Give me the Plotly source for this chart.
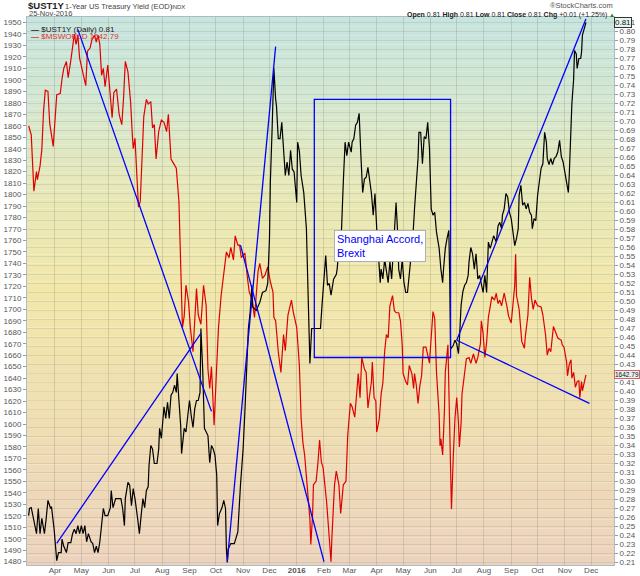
import plotly.graph_objects as go

# $UST1Y daily close (right axis)
ust_dates = ["2015-03-02", "2015-03-03", "2015-03-05", "2015-03-08", "2015-03-11", "2015-03-13", "2015-03-15", "2015-03-17",
             "2015-03-20", "2015-03-22", "2015-03-24", "2015-03-27", "2015-03-28", "2015-03-31", "2015-04-03", "2015-04-05",
             "2015-04-08", "2015-04-09", "2015-04-11", "2015-04-14", "2015-04-16", "2015-04-19", "2015-04-21", "2015-04-23",
             "2015-04-25", "2015-04-27", "2015-04-29", "2015-05-01", "2015-05-03", "2015-05-05", "2015-05-07", "2015-05-09",
             "2015-05-12", "2015-05-14", "2015-05-16", "2015-05-18", "2015-05-20", "2015-05-22", "2015-05-24", "2015-05-26",
             "2015-05-28", "2015-05-31", "2015-06-03", "2015-06-04", "2015-06-06", "2015-06-09", "2015-06-12", "2015-06-15",
             "2015-06-17", "2015-06-19", "2015-06-20", "2015-06-23", "2015-06-25", "2015-06-27", "2015-06-29", "2015-07-01",
             "2015-07-04", "2015-07-06", "2015-07-08", "2015-07-10", "2015-07-12", "2015-07-14", "2015-07-16", "2015-07-17",
             "2015-07-19", "2015-07-21", "2015-07-23", "2015-07-26", "2015-07-28", "2015-07-29", "2015-07-31", "2015-08-02",
             "2015-08-03", "2015-08-05", "2015-08-07", "2015-08-09", "2015-08-11", "2015-08-13", "2015-08-15", "2015-08-17",
             "2015-08-18", "2015-08-20", "2015-08-22", "2015-08-23", "2015-08-26", "2015-08-28", "2015-08-31", "2015-09-01",
             "2015-09-03", "2015-09-05", "2015-09-07", "2015-09-09", "2015-09-11", "2015-09-13", "2015-09-14", "2015-09-16",
             "2015-09-18", "2015-09-20", "2015-09-22", "2015-09-24", "2015-09-26", "2015-09-28", "2015-09-30", "2015-10-02",
             "2015-10-03", "2015-10-05", "2015-10-08", "2015-10-10", "2015-10-12", "2015-10-13", "2015-10-14", "2015-10-15",
             "2015-10-18", "2015-10-22", "2015-10-26", "2015-10-29", "2015-11-01", "2015-11-03", "2015-11-05", "2015-11-07",
             "2015-11-09", "2015-11-11", "2015-11-12", "2015-11-16", "2015-11-20", "2015-11-23", "2015-11-27", "2015-11-29",
             "2015-12-01", "2015-12-02", "2015-12-04", "2015-12-06", "2015-12-08", "2015-12-09", "2015-12-11", "2015-12-13",
             "2015-12-15", "2015-12-17", "2015-12-19", "2015-12-21", "2015-12-23", "2015-12-25", "2015-12-27", "2015-12-29",
             "2016-01-01", "2016-01-02", "2016-01-04", "2016-01-06", "2016-01-09", "2016-01-12", "2016-01-14", "2016-01-15",
             "2016-01-16", "2016-01-18", "2016-01-21", "2016-01-25", "2016-01-28", "2016-01-30", "2016-02-01", "2016-02-03",
             "2016-02-05", "2016-02-07", "2016-02-09", "2016-02-12", "2016-02-15", "2016-02-16", "2016-02-18", "2016-02-21",
             "2016-02-23", "2016-02-25", "2016-02-27", "2016-02-29", "2016-03-03", "2016-03-04", "2016-03-06", "2016-03-08",
             "2016-03-10", "2016-03-12", "2016-03-14", "2016-03-16", "2016-03-18", "2016-03-20", "2016-03-22", "2016-03-24",
             "2016-03-26", "2016-03-28", "2016-03-30", "2016-04-01", "2016-04-03", "2016-04-05", "2016-04-06", "2016-04-08",
             "2016-04-10", "2016-04-12", "2016-04-14", "2016-04-16", "2016-04-18", "2016-04-20", "2016-04-22", "2016-04-23",
             "2016-04-25", "2016-04-26", "2016-04-28", "2016-04-30", "2016-05-02", "2016-05-04", "2016-05-06", "2016-05-08",
             "2016-05-10", "2016-05-12", "2016-05-14", "2016-05-16", "2016-05-18", "2016-05-19", "2016-05-21", "2016-05-23",
             "2016-05-25", "2016-05-27", "2016-05-29", "2016-05-31", "2016-06-02", "2016-06-04", "2016-06-06", "2016-06-08",
             "2016-06-11", "2016-06-13", "2016-06-15", "2016-06-16", "2016-06-18", "2016-06-20", "2016-06-22", "2016-06-23",
             "2016-06-24", "2016-06-27", "2016-06-29", "2016-07-01", "2016-07-03", "2016-07-04", "2016-07-06", "2016-07-08",
             "2016-07-10", "2016-07-12", "2016-07-14", "2016-07-15", "2016-07-17", "2016-07-19", "2016-07-21", "2016-07-23",
             "2016-07-25", "2016-07-27", "2016-07-29", "2016-07-31", "2016-08-02", "2016-08-04", "2016-08-06", "2016-08-08",
             "2016-08-09", "2016-08-12", "2016-08-15", "2016-08-17", "2016-08-19", "2016-08-21", "2016-08-22", "2016-08-24",
             "2016-08-26", "2016-08-28", "2016-08-30", "2016-09-01", "2016-09-03", "2016-09-05", "2016-09-07", "2016-09-09",
             "2016-09-10", "2016-09-12", "2016-09-14", "2016-09-16", "2016-09-18", "2016-09-20", "2016-09-22", "2016-09-24",
             "2016-09-25", "2016-09-27", "2016-09-29", "2016-10-01", "2016-10-03", "2016-10-05", "2016-10-07", "2016-10-09",
             "2016-10-11", "2016-10-12", "2016-10-14", "2016-10-16", "2016-10-18", "2016-10-20", "2016-10-22", "2016-10-24",
             "2016-10-26", "2016-10-28", "2016-10-30", "2016-11-02", "2016-11-03", "2016-11-05", "2016-11-06", "2016-11-08",
             "2016-11-09", "2016-11-11", "2016-11-12", "2016-11-14", "2016-11-15", "2016-11-17", "2016-11-19", "2016-11-20",
             "2016-11-21", "2016-11-23", "2016-11-25"]
ust_vals = [0.262, 0.270, 0.271, 0.255, 0.242, 0.270, 0.242, 0.259,
            0.242, 0.259, 0.279, 0.270, 0.272, 0.247, 0.212, 0.221,
            0.221, 0.236, 0.228, 0.221, 0.232, 0.232, 0.242, 0.247,
            0.242, 0.251, 0.242, 0.251, 0.242, 0.251, 0.233, 0.242,
            0.233, 0.231, 0.221, 0.228, 0.221, 0.233, 0.251, 0.270,
            0.262, 0.262, 0.271, 0.290, 0.271, 0.281, 0.281, 0.281,
            0.270, 0.251, 0.281, 0.299, 0.296, 0.273, 0.292, 0.281,
            0.259, 0.242, 0.262, 0.281, 0.271, 0.290, 0.294, 0.318,
            0.340, 0.336, 0.320, 0.320, 0.336, 0.359, 0.348, 0.377,
            0.383, 0.370, 0.388, 0.370, 0.396, 0.399, 0.407, 0.399,
            0.420, 0.390, 0.362, 0.331, 0.359, 0.355, 0.388, 0.390,
            0.373, 0.360, 0.381, 0.390, 0.390, 0.399, 0.470, 0.425,
            0.359, 0.355, 0.351, 0.321, 0.340, 0.336, 0.329, 0.307,
            0.251, 0.264, 0.271, 0.279, 0.270, 0.225, 0.210, 0.225,
            0.231, 0.231, 0.244, 0.296, 0.336, 0.377, 0.421, 0.470,
            0.488, 0.518, 0.494, 0.490, 0.499, 0.510, 0.512, 0.520,
            0.570, 0.633, 0.692, 0.759, 0.725, 0.717, 0.681, 0.681,
            0.699, 0.671, 0.640, 0.655, 0.640, 0.668, 0.647, 0.644,
            0.610, 0.677, 0.667, 0.640, 0.621, 0.581, 0.510, 0.451,
            0.431, 0.470, 0.470, 0.470, 0.470, 0.499, 0.530, 0.551,
            0.518, 0.520, 0.507, 0.525, 0.530, 0.536, 0.559, 0.581,
            0.633, 0.677, 0.662, 0.677, 0.666, 0.677, 0.681, 0.696,
            0.699, 0.709, 0.662, 0.621, 0.636, 0.638, 0.649, 0.633,
            0.620, 0.596, 0.620, 0.581, 0.544, 0.521, 0.536, 0.525,
            0.547, 0.536, 0.521, 0.544, 0.525, 0.559, 0.588, 0.610,
            0.573, 0.536, 0.525, 0.547, 0.521, 0.510, 0.510, 0.529,
            0.544, 0.570, 0.603, 0.633, 0.659, 0.688, 0.688, 0.653,
            0.683, 0.681, 0.699, 0.670, 0.603, 0.596, 0.599, 0.577,
            0.559, 0.536, 0.521, 0.536, 0.559, 0.570, 0.579, 0.529,
            0.447, 0.451, 0.457, 0.453, 0.442, 0.457, 0.496, 0.511,
            0.518, 0.521, 0.529, 0.544, 0.560, 0.553, 0.536, 0.553,
            0.525, 0.529, 0.521, 0.510, 0.529, 0.510, 0.566, 0.559,
            0.562, 0.573, 0.566, 0.584, 0.588, 0.581, 0.596, 0.603,
            0.620, 0.616, 0.599, 0.592, 0.577, 0.562, 0.570, 0.581,
            0.618, 0.629, 0.607, 0.610, 0.603, 0.609, 0.599, 0.596,
            0.581, 0.592, 0.590, 0.618, 0.633, 0.648, 0.653, 0.688,
            0.677, 0.659, 0.652, 0.659, 0.652, 0.659, 0.661, 0.666,
            0.679, 0.661, 0.655, 0.640, 0.633, 0.621, 0.640, 0.710,
            0.720, 0.747, 0.779, 0.775, 0.759, 0.770, 0.770, 0.777,
            0.796, 0.803, 0.810]

# $MSWORLD close (left axis)
msw_dates = ["2015-03-02", "2015-03-05", "2015-03-08", "2015-03-11", "2015-03-12", "2015-03-15", "2015-03-17", "2015-03-19",
             "2015-03-21", "2015-03-24", "2015-03-26", "2015-03-30", "2015-04-03", "2015-04-07", "2015-04-09", "2015-04-11",
             "2015-04-14", "2015-04-16", "2015-04-19", "2015-04-21", "2015-04-23", "2015-04-25", "2015-04-27", "2015-04-29",
             "2015-05-03", "2015-05-06", "2015-05-08", "2015-05-11", "2015-05-13", "2015-05-16", "2015-05-18", "2015-05-20",
             "2015-05-22", "2015-05-24", "2015-05-26", "2015-05-28", "2015-05-31", "2015-06-03", "2015-06-05", "2015-06-07",
             "2015-06-10", "2015-06-13", "2015-06-16", "2015-06-18", "2015-06-20", "2015-06-23", "2015-06-26", "2015-06-28",
             "2015-06-29", "2015-07-01", "2015-07-03", "2015-07-05", "2015-07-07", "2015-07-09", "2015-07-11", "2015-07-14",
             "2015-07-16", "2015-07-19", "2015-07-21", "2015-07-23", "2015-07-25", "2015-07-28", "2015-07-31", "2015-08-03",
             "2015-08-06", "2015-08-08", "2015-08-11", "2015-08-14", "2015-08-17", "2015-08-20", "2015-08-24", "2015-08-26",
             "2015-08-28", "2015-08-31", "2015-09-02", "2015-09-05", "2015-09-07", "2015-09-09", "2015-09-11", "2015-09-14",
             "2015-09-17", "2015-09-20", "2015-09-22", "2015-09-24", "2015-09-26", "2015-09-29", "2015-10-02", "2015-10-04",
             "2015-10-07", "2015-10-10", "2015-10-13", "2015-10-16", "2015-10-18", "2015-10-21", "2015-10-23", "2015-10-26",
             "2015-10-28", "2015-10-30", "2015-11-03", "2015-11-06", "2015-11-08", "2015-11-11", "2015-11-14", "2015-11-18",
             "2015-11-20", "2015-11-23", "2015-11-26", "2015-11-29", "2015-12-02", "2015-12-05", "2015-12-06", "2015-12-08",
             "2015-12-11", "2015-12-14", "2015-12-17", "2015-12-19", "2015-12-22", "2015-12-26", "2015-12-28", "2016-01-01",
             "2016-01-04", "2016-01-06", "2016-01-08", "2016-01-10", "2016-01-12", "2016-01-14", "2016-01-16", "2016-01-17",
             "2016-01-19", "2016-01-20", "2016-01-23", "2016-01-25", "2016-01-27", "2016-01-29", "2016-01-31", "2016-02-04",
             "2016-02-07", "2016-02-09", "2016-02-10", "2016-02-13", "2016-02-15", "2016-02-18", "2016-02-20", "2016-02-23",
             "2016-02-26", "2016-02-28", "2016-03-02", "2016-03-04", "2016-03-07", "2016-03-09", "2016-03-11", "2016-03-13",
             "2016-03-15", "2016-03-18", "2016-03-20", "2016-03-22", "2016-03-24", "2016-03-26", "2016-03-27", "2016-03-29",
             "2016-03-31", "2016-04-01", "2016-04-04", "2016-04-06", "2016-04-08", "2016-04-10", "2016-04-12", "2016-04-14",
             "2016-04-16", "2016-04-19", "2016-04-21", "2016-04-23", "2016-04-26", "2016-04-28", "2016-04-30", "2016-05-01",
             "2016-05-04", "2016-05-06", "2016-05-08", "2016-05-11", "2016-05-13", "2016-05-14", "2016-05-16", "2016-05-18",
             "2016-05-20", "2016-05-22", "2016-05-24", "2016-05-27", "2016-05-29", "2016-05-31", "2016-06-02", "2016-06-04",
             "2016-06-06", "2016-06-08", "2016-06-11", "2016-06-12", "2016-06-13", "2016-06-15", "2016-06-17", "2016-06-18",
             "2016-06-21", "2016-06-23", "2016-06-24", "2016-06-25", "2016-06-27", "2016-06-29", "2016-07-01", "2016-07-03",
             "2016-07-04", "2016-07-06", "2016-07-07", "2016-07-10", "2016-07-12", "2016-07-15", "2016-07-17", "2016-07-20",
             "2016-07-23", "2016-07-25", "2016-07-28", "2016-07-29", "2016-07-31", "2016-08-02", "2016-08-04", "2016-08-06",
             "2016-08-08", "2016-08-10", "2016-08-13", "2016-08-15", "2016-08-17", "2016-08-19", "2016-08-21", "2016-08-24",
             "2016-08-27", "2016-08-29", "2016-09-01", "2016-09-03", "2016-09-05", "2016-09-06", "2016-09-07", "2016-09-10",
             "2016-09-12", "2016-09-13", "2016-09-16", "2016-09-17", "2016-09-20", "2016-09-22", "2016-09-24", "2016-09-26",
             "2016-09-28", "2016-10-01", "2016-10-05", "2016-10-07", "2016-10-10", "2016-10-12", "2016-10-14", "2016-10-16",
             "2016-10-19", "2016-10-22", "2016-10-24", "2016-10-28", "2016-10-29", "2016-10-31", "2016-11-03", "2016-11-04",
             "2016-11-06", "2016-11-08", "2016-11-09", "2016-11-11", "2016-11-13", "2016-11-15", "2016-11-17", "2016-11-18",
             "2016-11-20", "2016-11-21", "2016-11-25"]
msw_vals = [1860, 1852, 1803, 1820, 1813, 1825, 1839, 1873,
            1891, 1890, 1862, 1842, 1887, 1888, 1901, 1910,
            1916, 1902, 1917, 1931, 1940, 1931, 1939, 1919,
            1906, 1895, 1925, 1928, 1935, 1939, 1933, 1939,
            1931, 1904, 1910, 1894, 1913, 1887, 1867, 1889,
            1892, 1870, 1861, 1884, 1916, 1907, 1881, 1852,
            1840, 1849, 1820, 1789, 1794, 1837, 1868, 1883,
            1879, 1881, 1858, 1861, 1831, 1855, 1865, 1863,
            1855, 1870, 1831, 1827, 1823, 1794, 1684, 1694,
            1721, 1706, 1684, 1663, 1693, 1718, 1695, 1687,
            1721, 1703, 1648, 1631, 1650, 1599, 1651, 1684,
            1712, 1730, 1750, 1745, 1754, 1743, 1764, 1756,
            1756, 1745, 1749, 1727, 1715, 1709, 1693, 1733,
            1740, 1727, 1730, 1737, 1724, 1715, 1693, 1690,
            1663, 1645, 1678, 1664, 1695, 1708, 1698, 1684,
            1651, 1605, 1584, 1573, 1553, 1541, 1517, 1495,
            1520, 1547, 1550, 1565, 1586, 1567, 1562, 1532,
            1501, 1480, 1501, 1547, 1559, 1547, 1522, 1547,
            1550, 1590, 1618, 1615, 1606, 1628, 1644, 1623,
            1658, 1648, 1645, 1614, 1628, 1637, 1654, 1623,
            1620, 1593, 1605, 1626, 1636, 1663, 1678, 1675,
            1703, 1712, 1699, 1697, 1697, 1690, 1669, 1644,
            1637, 1634, 1651, 1644, 1631, 1644, 1634, 1618,
            1633, 1642, 1667, 1667, 1660, 1653, 1676, 1698,
            1692, 1645, 1608, 1581, 1587, 1573, 1611, 1645,
            1669, 1599, 1547, 1526, 1570, 1605, 1623, 1601,
            1580, 1601, 1626, 1648, 1657, 1658, 1653, 1661,
            1653, 1658, 1670, 1690, 1679, 1658, 1671, 1693,
            1703, 1711, 1708, 1714, 1705, 1708, 1703, 1714,
            1703, 1694, 1688, 1706, 1721, 1748, 1712, 1700,
            1678, 1672, 1666, 1676, 1695, 1728, 1710, 1700,
            1708, 1703, 1702, 1695, 1678, 1660, 1666, 1663,
            1685, 1678, 1675, 1673, 1669, 1667, 1654, 1642,
            1652, 1656, 1640, 1645, 1632, 1637, 1638, 1623,
            1637, 1629, 1642.79]

month_ticks = ["2015-04-01", "2015-05-01", "2015-06-01", "2015-07-01", "2015-08-01", "2015-09-01", "2015-10-01",
               "2015-11-01", "2015-12-01", "2016-01-01", "2016-02-01", "2016-03-01", "2016-04-01", "2016-05-01",
               "2016-06-01", "2016-07-01", "2016-08-01", "2016-09-01", "2016-10-01", "2016-11-01", "2016-12-01"]
month_labels = ["Apr", "May", "Jun", "Jul", "Aug", "Sep", "Oct", "Nov", "Dec", "<b>2016</b>", "Feb", "Mar",
                "Apr", "May", "Jun", "Jul", "Aug", "Sep", "Oct", "Nov", "Dec"]

# hand drawn trendlines (date, MSWORLD-scale level)
trendlines = [
    (("2015-04-27", 1944), ("2015-09-26", 1611)),
    (("2015-04-03", 1496), ("2015-09-14", 1679)),
    (("2015-10-14", 1480), ("2015-12-08", 1929)),
    (("2015-10-29", 1756), ("2016-02-01", 1480)),
    (("2016-07-01", 1673), ("2016-11-25", 1953)),
    (("2016-07-01", 1673), ("2016-11-29", 1618)),
]
box = (("2016-01-21", 1658), ("2016-06-24", 1883))

FONT = "Liberation Sans, Arial, sans-serif"

fig = go.Figure()

# background gradient: teal at top, yellow in the middle, peach at bottom
stops = [(0.0, (236, 211, 190)), (0.3, (240, 224, 178)), (0.5, (241, 231, 170)),
         (0.7, (230, 232, 186)), (0.85, (212, 231, 210)), (1.0, (198, 228, 222))]

def grad(t):
    for (a, ca), (b, cb) in zip(stops[:-1], stops[1:]):
        if a <= t <= b:
            f = (t - a) / (b - a)
            return "rgb(%d,%d,%d)" % tuple(round(ca[i] + (cb[i] - ca[i]) * f) for i in range(3))
    return "rgb(%d,%d,%d)" % stops[-1][1]

n = 60
for i in range(n):
    fig.add_shape(type="rect", xref="paper", yref="paper", x0=0, x1=1, y0=i / n, y1=(i + 1) / n,
                  fillcolor=grad((i + 0.5) / n), line_width=0, layer="below")

fig.add_trace(go.Scatter(x=ust_dates, y=ust_vals, yaxis="y2", mode="lines",
                         line=dict(color="black", width=1.2), name="$UST1Y"))
fig.add_trace(go.Scatter(x=msw_dates, y=msw_vals, yaxis="y", mode="lines",
                         line=dict(color="#e00000", width=1.2), name="$MSWORLD"))

for (x0, y0), (x1, y1) in trendlines:
    fig.add_shape(type="line", xref="x", yref="y", x0=x0, y0=y0, x1=x1, y1=y1,
                  line=dict(color="#0000ff", width=1.3))
fig.add_shape(type="rect", xref="x", yref="y", x0=box[0][0], y0=box[0][1], x1=box[1][0], y1=box[1][1],
              line=dict(color="#0000ff", width=1.3))

fig.add_annotation(x="2016-02-12", y=1769, xref="x", yref="y", xanchor="left", yanchor="top",
                   text="Shanghai Accord,<br>Brexit", align="left", showarrow=False,
                   font=dict(family=FONT, size=11, color="#0000ff"),
                   bgcolor="white", bordercolor="#b0b0b0", borderwidth=1, borderpad=2)

def px(x):
    return (x - 27) / 587

def py(y):
    return (565 - y) / 548

hdr = [
    (26, 6, "<b>$UST1Y</b>", 9.5, "#222", "left"),
    (63, 6.5, "1-Year US Treasury Yield (EOD)", 7.5, "#444", "left"),
    (169, 6.5, "INDX", 6, "#444", "left"),
    (27, 14, "25-Nov-2016", 7.5, "#444", "left"),
    (615, 6, "\u00aeStockCharts.com", 7.5, "#555", "right"),
    (609, 14.5, "<b>Open</b> 0.81 <b>High</b> 0.81 <b>Low</b> 0.81 <b>Close</b> 0.81 <b>Chg</b> +0.01 (+1.25%)",
     7, "#222", "right"),
]
for x, y, t, s, c, anc in hdr:
    fig.add_annotation(x=px(x), y=py(y), xref="paper", yref="paper", text=t, showarrow=False,
                       xanchor=anc, yanchor="middle", font=dict(family=FONT, size=s, color=c))
fig.add_annotation(x=px(612), y=py(14.5), xref="paper", yref="paper", text="\u25b2", showarrow=False,
                   xanchor="center", yanchor="middle", font=dict(family=FONT, size=6, color="#208020"))

fig.add_annotation(x=px(29), y=py(22.5), xref="paper", yref="paper", showarrow=False, xanchor="left",
                   text="<b>\u2014</b> $UST1Y (Daily) 0.81", font=dict(family=FONT, size=8, color="#222"))
fig.add_annotation(x=px(29), y=py(29.5), xref="paper", yref="paper", showarrow=False, xanchor="left",
                   text="<b>\u2014</b> $MSWORLD 1642.79", font=dict(family=FONT, size=8, color="#e03030"))

# last value tags on the right axis
fig.add_annotation(x=1, y=ust_vals[-1], xref="paper", yref="y2", xanchor="left", showarrow=False,
                   text="0.81", font=dict(family=FONT, size=8, color="#111"),
                   bgcolor="#e8f4f0", bordercolor="#333", borderwidth=1, borderpad=0)
fig.add_annotation(x=1, y=msw_vals[-1], xref="paper", yref="y", xanchor="left", showarrow=False,
                   text="1642.79", font=dict(family=FONT, size=6.5, color="#111"),
                   bgcolor="#e4f2f2", bordercolor="#e06060", borderwidth=1, borderpad=0)

axis_font = dict(family=FONT, size=8, color="#555")
fig.update_layout(
    width=640, height=576,
    margin=dict(l=27, r=26, t=17, b=11, autoexpand=False),
    paper_bgcolor="white", plot_bgcolor="white",
    showlegend=False,
    xaxis=dict(type="date", range=["2015-02-28 04:00", "2016-12-26 22:00"],
               tickvals=month_ticks, ticktext=month_labels, tickfont=axis_font,
               showgrid=True, gridcolor="rgba(90,90,70,0.18)", gridwidth=1,
               showline=True, linecolor="#a8bccc", mirror=True, ticks="", ticklen=0,
               ticklabelstandoff=-3, zeroline=False, automargin=False),
    yaxis=dict(range=[1477.1, 1954.8], dtick=10, tick0=1480, tickfont=axis_font,
               showgrid=False, showline=True, linecolor="#a8bccc", mirror=True,
               ticks="outside", ticklen=3, tickcolor="#999", zeroline=False, automargin=False),
    yaxis2=dict(range=[0.2072, 0.8161], dtick=0.01, tick0=0.21, tickformat=".2f", tickfont=axis_font,
                overlaying="y", side="right", showgrid=True, gridcolor="rgba(90,90,70,0.13)",
                ticks="outside", ticklen=3, tickcolor="#999", zeroline=False, automargin=False),
)

# the page body has a default 8px margin; remove it so the chart sits at the corner
fig.write_html("out.html", config={"displayModeBar": False},
               post_script="document.body.style.margin='0';")
